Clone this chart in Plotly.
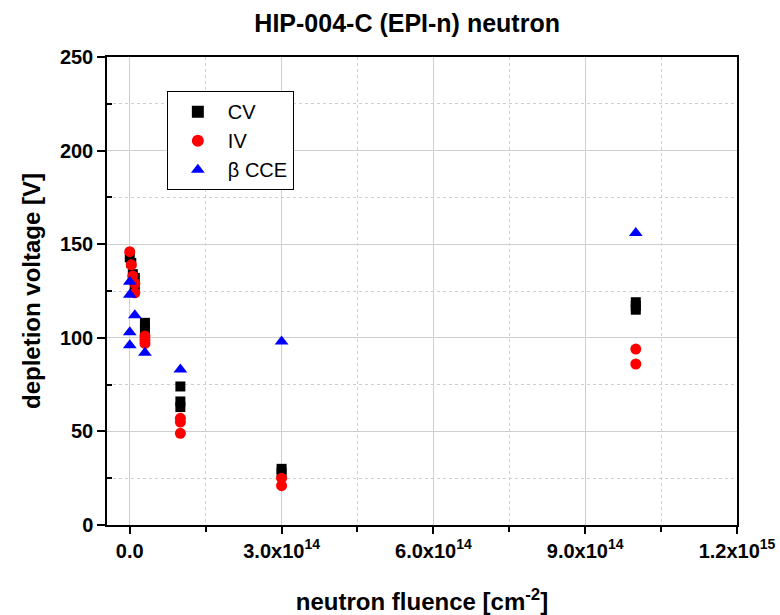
import plotly.graph_objects as go

# Data
cv_fluence = [0, 3e12, 6e12, 1e13, 1e13, 3e13, 3e13, 3e13, 1e14, 1e14, 1e14, 3e14, 3e14, 1e15, 1e15, 1e15]
cv_voltage = [143, 140, 134, 132, 128, 108, 105, 103, 74, 66, 63, 30, 28, 119, 117, 115]

iv_fluence = [0, 3e12, 6e12, 1e13, 1e13, 3e13, 3e13, 3e13, 1e14, 1e14, 1e14, 3e14, 3e14, 1e15, 1e15]
iv_voltage = [146, 139, 133, 129, 124, 101, 99, 97, 57, 55, 49, 25, 21, 94, 86]

cce_fluence = [0, 0, 0, 0, 1e13, 3e13, 1e14, 3e14, 1e15]
cce_voltage = [130, 123, 103, 96, 112, 92, 83, 98, 156]

x_tickvals = [0, 3e14, 6e14, 9e14, 1.2e15]
x_ticktext = ["0.0", "3.0x10<sup>14</sup>", "6.0x10<sup>14</sup>", "9.0x10<sup>14</sup>", "1.2x10<sup>15</sup>"]

FONT = "Liberation Sans, Arial, sans-serif"

fig = go.Figure()
fig.add_trace(go.Scatter(x=cv_fluence, y=cv_voltage, mode="markers", name="CV",
                         marker=dict(symbol="square", size=10, color="black")))
fig.add_trace(go.Scatter(x=iv_fluence, y=iv_voltage, mode="markers", name="IV",
                         marker=dict(symbol="circle", size=11, color="#ff0000")))
fig.add_trace(go.Scatter(x=cce_fluence, y=cce_voltage, mode="markers", name="β CCE",
                         marker=dict(symbol="triangle-up", size=12, color="#0000ff")))

fig.update_layout(
    width=780, height=615,
    margin=dict(l=107, r=43, t=57, b=90),
    paper_bgcolor="white", plot_bgcolor="white",
    font=dict(family=FONT, color="black"),
    title=dict(text="HIP-004-C (EPI-n) neutron", x=0.522, xanchor="center",
               y=0.963, yanchor="middle",
               font=dict(family=FONT, size=25, weight="bold", color="black")),
    showlegend=True,
    legend=dict(x=0.095, y=0.927, xanchor="left", yanchor="top",
                bgcolor="white", bordercolor="black", borderwidth=1,
                font=dict(family=FONT, size=20, color="black"),
                itemsizing="constant", itemwidth=50, tracegroupgap=2),
)

fig.update_xaxes(
    range=[-0.45e14, 1.2e15], automargin=False,
    tickvals=x_tickvals, ticktext=x_ticktext,
    tickfont=dict(family=FONT, size=20, weight="bold", color="black"),
    ticks="outside", ticklen=7, tickwidth=1.5, tickcolor="black",
    showline=True, linecolor="black", linewidth=1.5, mirror=True,
    showgrid=True, gridcolor="#cfcfcf", gridwidth=1,
    zeroline=False,
    minor=dict(tickvals=[1.5e14, 4.5e14, 7.5e14, 10.5e14], ticks="outside", ticklen=5,
               tickcolor="black", showgrid=True, gridcolor="#cfcfcf", griddash="dot"),
    title=dict(text="neutron fluence [cm<sup>-2</sup>]", standoff=36,
               font=dict(family=FONT, size=24, weight="bold", color="black")),
)

fig.update_yaxes(
    range=[0, 250], automargin=False, tickvals=[0, 50, 100, 150, 200, 250],
    tickfont=dict(family=FONT, size=20, weight="bold", color="black"),
    ticks="outside", ticklen=8, tickwidth=1.5, tickcolor="black",
    showline=True, linecolor="black", linewidth=1.5, mirror=True,
    showgrid=True, gridcolor="#cfcfcf", gridwidth=1,
    zeroline=False,
    minor=dict(tickvals=[25, 75, 125, 175, 225], ticks="inside", ticklen=5,
               tickcolor="black", showgrid=True, gridcolor="#cfcfcf", griddash="dot"),
    title=dict(text="depletion voltage [V]", standoff=12,
               font=dict(family=FONT, size=24, weight="bold", color="black")),
)

fig.write_html("out.html")
